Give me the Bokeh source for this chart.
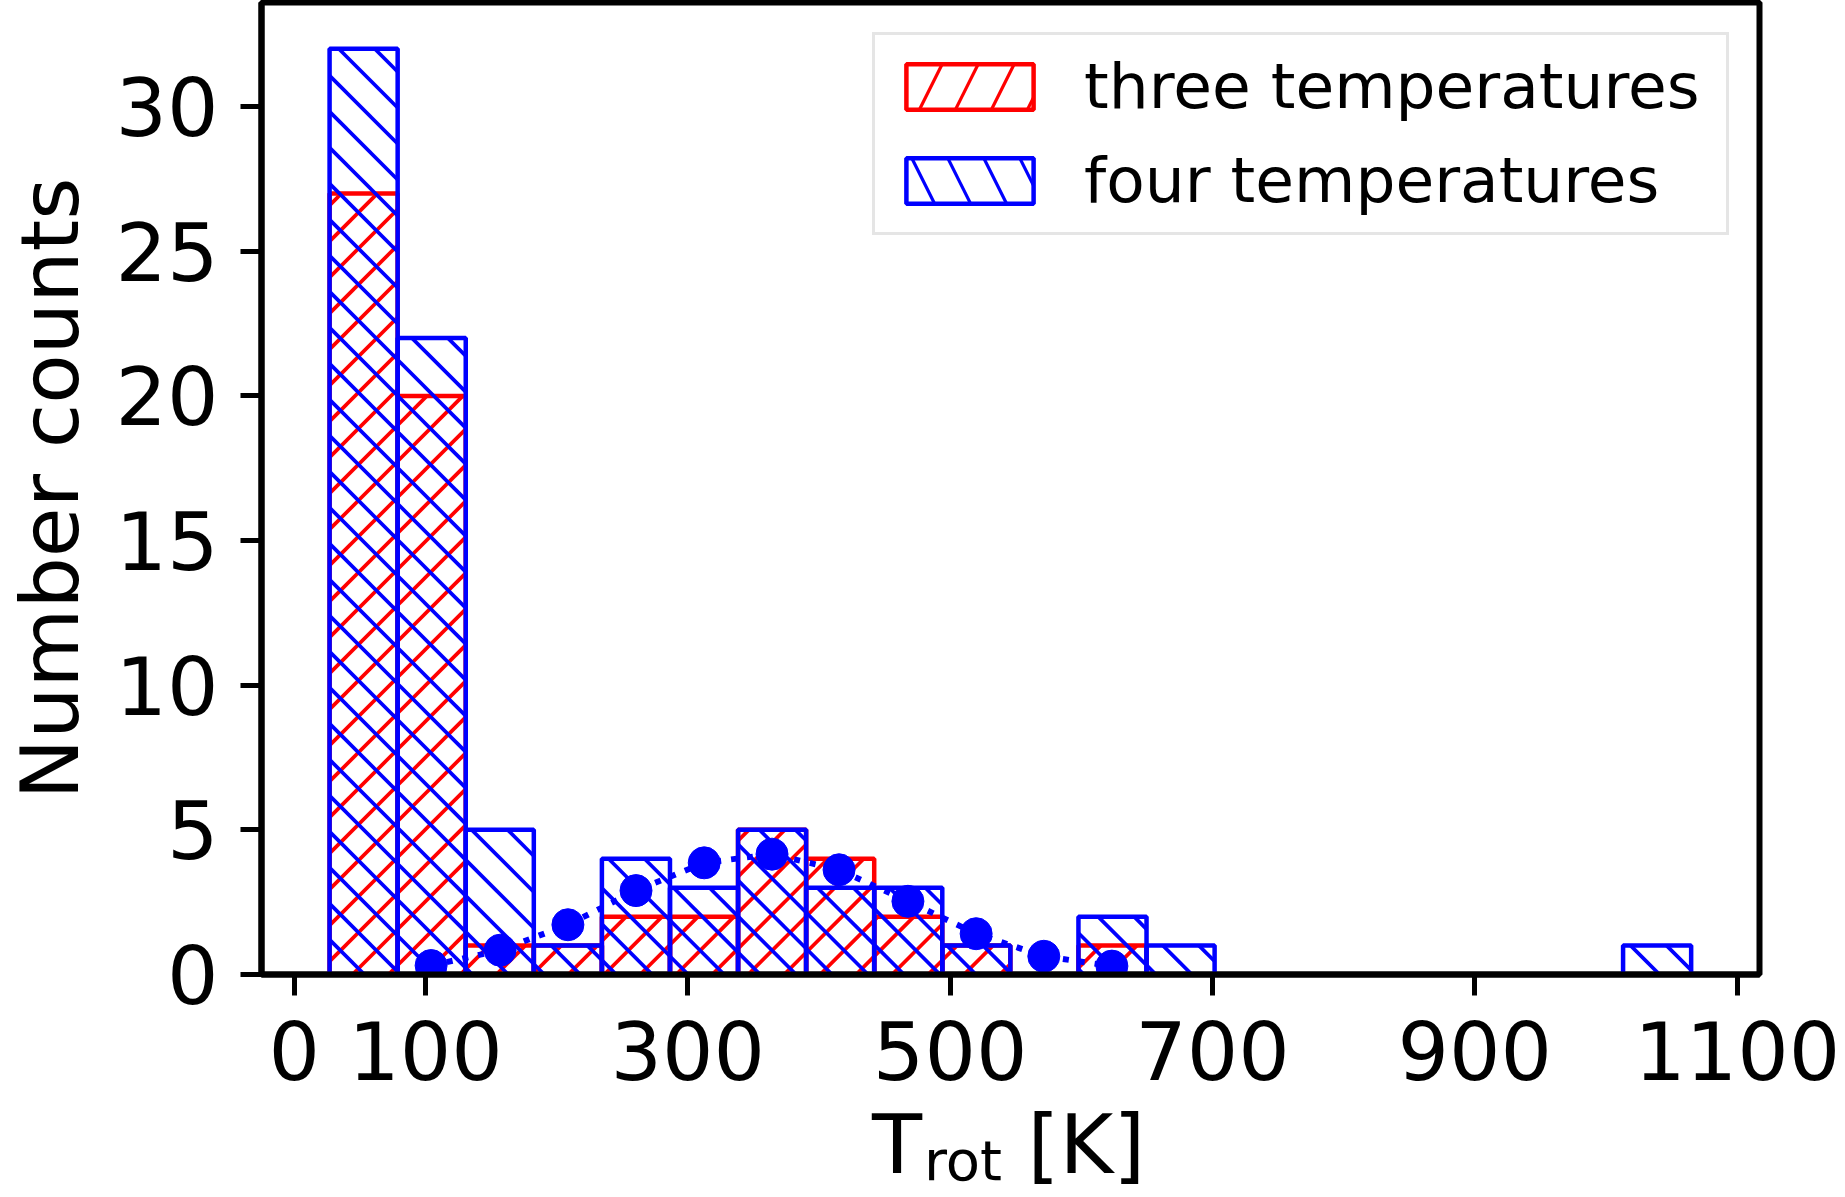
import math
from bokeh.plotting import figure
from bokeh.models import (Range1d, FixedTicker, Legend, LegendItem, LinearAxis,
                          ColumnDataSource)
from bokeh.embed import file_html
from bokeh.resources import INLINE

# ---- data ----
bin_edges = [26.9, 78.8, 130.7, 182.6, 234.5, 286.4, 338.3, 390.2, 442.1, 494.0,
             545.9, 597.8, 649.7, 701.6, 753.5, 805.4, 857.3, 909.2, 961.1, 1013.0, 1064.9]
three_counts = [27, 20, 1, 1, 2, 2, 5, 4, 2, 1, 0, 1, 0, 0, 0, 0, 0, 0, 0, 0]
four_counts = [32, 22, 5, 1, 4, 3, 5, 3, 3, 1, 0, 2, 1, 0, 0, 0, 0, 0, 0, 1]
fit_x = [104.3, 156.9, 208.6, 260.5, 312.5, 364.2, 415.3, 467.8, 519.8, 571.4, 623.3]
fit_y = [0.31, 0.84, 1.72, 2.90, 3.86, 4.16, 3.62, 2.53, 1.41, 0.63, 0.29]
x_ticks = [0, 100, 300, 500, 700, 900, 1100]
y_ticks = [0, 5, 10, 15, 20, 25, 30]
series_labels = ["three temperatures", "four temperatures"]
x_label_main, x_label_sub, x_label_unit = "T", "rot", "[K]"
y_label = "Number counts"

FONT = "DejaVu Sans"
RED, BLUE = "#ff0000", "#0000ff"

# ---- layout constants ----
W, H = 1845, 1197
B_LEFT, B_RIGHT, B_TOP, B_BOTTOM = 260, 86, 2, 223
X_LO, X_HI = -25, 1117
Y_LO, Y_HI = 0, 33.6
FL, FR, FT, FB = B_LEFT, W - B_RIGHT, B_TOP, H - B_BOTTOM


def to_sx(x):
    return FL + (x - X_LO) * (FR - FL) / (X_HI - X_LO)


def from_sx(s):
    return X_LO + (s - FL) * (X_HI - X_LO) / (FR - FL)


def to_sy(y):
    return FB - (y - Y_LO) * (FB - FT) / (Y_HI - Y_LO)


def from_sy(s):
    return Y_LO + (FB - s) * (Y_HI - Y_LO) / (FB - FT)


def bars(counts):
    idx = [i for i, c in enumerate(counts) if c > 0]
    return ColumnDataSource(dict(
        left=[bin_edges[i] for i in idx],
        right=[bin_edges[i + 1] for i in idx],
        top=[counts[i] for i in idx],
        bottom=[0] * len(idx)))


def hatch_segments(counts, direction, spacing=36.0, phase=0.0):
    """45-degree hatch lines (screen space) clipped to each histogram bar."""
    xs0, ys0, xs1, ys1 = [], [], [], []
    for i, c in enumerate(counts):
        if c <= 0:
            continue
        L, R = to_sx(bin_edges[i]), to_sx(bin_edges[i + 1])
        T, B = to_sy(c), to_sy(0)
        if direction == "/":          # sx + sy = k
            kmin, kmax = L + T, R + B
        else:                         # sx - sy = k
            kmin, kmax = L - B, R - T
        k = math.ceil((kmin - phase) / spacing) * spacing + phase
        while k <= kmax:
            if direction == "/":
                a, b = max(L, k - B), min(R, k - T)
                pa, pb = (a, k - a), (b, k - b)
            else:
                a, b = max(L, k + T), min(R, k + B)
                pa, pb = (a, a - k), (b, b - k)
            if b - a > 0.5:
                xs0.append(from_sx(pa[0]))
                ys0.append(from_sy(pa[1]))
                xs1.append(from_sx(pb[0]))
                ys1.append(from_sy(pb[1]))
            k += spacing
    return ColumnDataSource(dict(x0=xs0, y0=ys0, x1=xs1, y1=ys1))


p = figure(width=W, height=H, output_backend="svg", toolbar_location=None,
           x_range=Range1d(X_LO, X_HI), y_range=Range1d(Y_LO, Y_HI),
           min_border_left=B_LEFT, min_border_right=B_RIGHT, min_border_top=B_TOP,
           min_border_bottom=B_BOTTOM)
p.xgrid.visible = False
p.ygrid.visible = False
p.outline_line_color = "black"
p.outline_line_width = 6
p.background_fill_color = "white"
p.border_fill_color = "white"

HATCH_W, EDGE_W = 3.7, 4.5

# three temperatures (red, "/")
p.segment(x0="x0", y0="y0", x1="x1", y1="y1", source=hatch_segments(three_counts, "/", phase=29),
          line_color=RED, line_width=HATCH_W)
p.quad(source=bars(three_counts), left="left", right="right", top="top",
       bottom="bottom", fill_color=None, line_color=RED, line_width=EDGE_W)
# four temperatures (blue, "\")
p.segment(x0="x0", y0="y0", x1="x1", y1="y1", source=hatch_segments(four_counts, "\\", phase=1),
          line_color=BLUE, line_width=HATCH_W)
p.quad(source=bars(four_counts), left="left", right="right", top="top",
       bottom="bottom", fill_color=None, line_color=BLUE, line_width=EDGE_W)

# legend swatches: hidden copies of the bars carrying a hatch pattern
leg_red = p.quad(source=bars(three_counts), left="left", right="right", top="top",
                 bottom="bottom", fill_color=None, line_color=RED, line_width=EDGE_W,
                 hatch_pattern="/", hatch_color=RED, hatch_weight=3.2, hatch_scale=72,
                 visible=False)
leg_blue = p.quad(source=bars(four_counts), left="left", right="right", top="top",
                  bottom="bottom", fill_color=None, line_color=BLUE, line_width=EDGE_W,
                  hatch_pattern="\\", hatch_color=BLUE, hatch_weight=3.2, hatch_scale=72,
                  visible=False)

p.line(fit_x, fit_y, line_color=BLUE, line_width=6, line_dash="6 10")
p.scatter(fit_x, fit_y, size=32, color=BLUE)

for ax in (p.xaxis[0], p.yaxis[0]):
    ax.axis_line_width = 6
    ax.axis_line_color = "black"
    ax.major_tick_in = 0
    ax.major_tick_out = 21
    ax.major_tick_line_width = 5
    ax.minor_tick_line_color = None
    ax.major_label_text_font = FONT
    ax.major_label_text_font_size = "81px"
    ax.major_label_text_color = "black"
    ax.axis_label_text_font = FONT
    ax.axis_label_text_font_size = "81px"
    ax.axis_label_text_font_style = "normal"
    ax.axis_label_text_color = "black"

p.xaxis[0].ticker = FixedTicker(ticks=x_ticks)
p.yaxis[0].ticker = FixedTicker(ticks=y_ticks)
p.xaxis[0].major_label_standoff = 25
p.yaxis[0].major_label_standoff = 22
p.yaxis[0].axis_label = y_label
p.yaxis[0].axis_label_standoff = 15


# x axis title "T_rot [K]" built from label-only axes (subscript needs its own size)
def label_axis(ticks, texts, size, standoff):
    ax = LinearAxis(ticker=FixedTicker(ticks=ticks),
                    major_label_overrides=dict(zip(ticks, texts)),
                    axis_line_color=None, major_tick_line_color=None,
                    minor_tick_line_color=None, major_tick_in=0, major_tick_out=0,
                    major_label_standoff=standoff, major_label_text_font=FONT,
                    major_label_text_font_size=size, major_label_text_color="black")
    p.add_layout(ax, "below")
    return ax


label_axis([509.8], [x_label_sub], "56px", 45)
label_axis([459.5, 603.9], [x_label_main, x_label_unit], "82px", -99)

legend = Legend(items=[LegendItem(label=series_labels[0], renderers=[leg_red]),
                       LegendItem(label=series_labels[1], renderers=[leg_blue])],
                location="top_right", margin=30, padding=15, spacing=21,
                glyph_width=159, glyph_height=57, label_standoff=35,
                label_height=64, label_width=627,
                label_text_font=FONT, label_text_font_size="63px",
                label_text_color="black", inactive_fill_alpha=0,
                border_line_color="#cccccc", border_line_width=3,
                background_fill_color="white", background_fill_alpha=0.8)
p.add_layout(legend)

open("out.html", "w").write(file_html(p, INLINE))
